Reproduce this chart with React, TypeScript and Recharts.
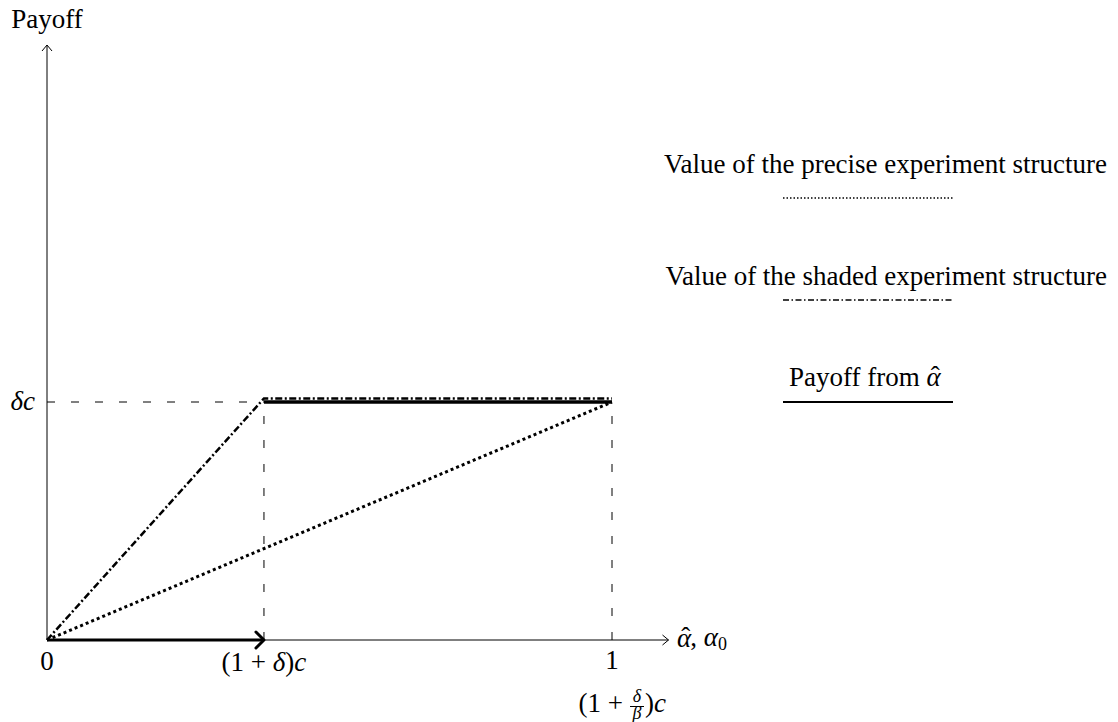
import { LineChart, Line, XAxis, YAxis, ReferenceLine, ReferenceDot, Customized } from "recharts"

const FONT = "'Liberation Serif', 'Times New Roman', serif"
const FS = 27

// x in units where "1" = 1, y in units of δc
const kinkX = 0.384
const xEnd = 1.1
const yTop = 2.5
const deltaC = 1

const xTicks = [0, kinkX, 1]
const yTicks = [deltaC]

const preciseX = [0, 1]
const preciseY = [0, 1]
const shadedX = [0, kinkX, 1]
const shadedY = [0, 1.015, 1.015]
const payoffLowX = [0, kinkX]
const payoffLowY = [0, 0]
const payoffHighX = [kinkX, 1]
const payoffHighY = [1, 1]

const legendLabels = [
  "Value of the precise experiment structure",
  "Value of the shaded experiment structure",
  "Payoff from ",
]

const toPoints = (xs: number[], ys: number[]) => xs.map((x, i) => ({ x, y: ys[i] }))

const it = { fontStyle: "italic" as const }

// α with a hat drawn over it (combining accents sit badly in Liberation)
function AlphaHat({ after = 0 }: { after?: number }) {
  return (
    <>
      <tspan {...it}>α</tspan>
      <tspan dx={-10} dy={-1}>ˆ</tspan>
      <tspan dx={after} dy={1}>{""}</tspan>
    </>
  )
}

function XTick(props: any) {
  const { x, y, index } = props
  if (index === 0) {
    return (
      <text x={x} y={y + 28} textAnchor="middle" fontFamily={FONT} fontSize={FS}>0</text>
    )
  }
  if (index === 1) {
    return (
      <text x={x} y={y + 29} textAnchor="middle" fontFamily={FONT} fontSize={FS}>
        <tspan>(1 + </tspan>
        <tspan {...it}>δ</tspan>
        <tspan>)</tspan>
        <tspan {...it}>c</tspan>
      </text>
    )
  }
  // "1" and (1 + δ/β)c below it
  return (
    <g fontFamily={FONT}>
      <text x={x} y={y + 27} textAnchor="middle" fontSize={FS}>1</text>
      <text x={x + 11} y={y + 70} textAnchor="end" fontSize={FS}>(1 +</text>
      <text x={x + 25} y={y + 60} textAnchor="middle" fontSize={18} {...it}>δ</text>
      <line x1={x + 18} x2={x + 32} y1={y + 64.5} y2={y + 64.5} stroke="#000" strokeWidth={1} />
      <text x={x + 25} y={y + 77} textAnchor="middle" fontSize={18} {...it}>β</text>
      <text x={x + 33} y={y + 70} textAnchor="start" fontSize={FS}>
        <tspan>)</tspan>
        <tspan {...it}>c</tspan>
      </text>
    </g>
  )
}

function YTick(props: any) {
  const { x, y } = props
  return (
    <text x={x - 10} y={y + 8} textAnchor="end" fontFamily={FONT} fontSize={FS} {...it}>
      δc
    </text>
  )
}

function ArrowRight(props: any) {
  const { cx, cy } = props
  return <path d={`M ${cx - 6} ${cy - 5} L ${cx} ${cy} L ${cx - 6} ${cy + 5}`} fill="none" stroke="#000" strokeWidth={1} />
}

function ArrowUp(props: any) {
  const { cx, cy } = props
  return <path d={`M ${cx - 5} ${cy + 6} L ${cx} ${cy} L ${cx + 5} ${cy + 6}`} fill="none" stroke="#000" strokeWidth={1} />
}

function ThickArrowDot(props: any) {
  const { cx, cy, index } = props
  if (index !== payoffLowX.length - 1) return <g key={`d${index}`} />
  return (
    <path
      key={`d${index}`}
      d={`M ${cx - 8} ${cy - 8} L ${cx} ${cy} L ${cx - 8} ${cy + 8}`}
      fill="none"
      stroke="#000"
      strokeWidth={3}
      strokeLinecap="round"
      strokeLinejoin="round"
    />
  )
}

function Annotations() {
  return (
    <g fontFamily={FONT} fontSize={FS} fill="#000">
      <text x={47} y={28} textAnchor="middle">Payoff</text>
      <text x={677} y={647} textAnchor="start">
        <AlphaHat after={1} />
        <tspan>, </tspan>
        <tspan {...it}>α</tspan>
        <tspan fontSize={18} dy={4}>0</tspan>
      </text>

      <text x={1107} y={173} textAnchor="end">{legendLabels[0]}</text>
      <line x1={783} x2={953} y1={198} y2={198} stroke="#000" strokeWidth={1.5} strokeDasharray="1.5 2" />

      <text x={1107} y={285} textAnchor="end">{legendLabels[1]}</text>
      <line x1={783} x2={953} y1={300} y2={300} stroke="#000" strokeWidth={1.5} strokeDasharray="6 2.5 1.5 2.5" />

      <text x={789} y={386} textAnchor="start">
        <tspan>{legendLabels[2]}</tspan>
        <AlphaHat />
      </text>
      <line x1={783} x2={953} y1={402} y2={402} stroke="#000" strokeWidth={2} />
    </g>
  )
}

export default function App() {
  return (
    <div style={{ position: "absolute", left: 0, top: 0, background: "#fff" }}>
      <LineChart width={1118} height={722} margin={{ top: 45, right: 449.5, bottom: 52, left: 7 }}>
        <XAxis
          type="number"
          dataKey="x"
          domain={[0, xEnd]}
          ticks={xTicks}
          interval={0}
          tick={<XTick />}
          tickLine={false}
          tickSize={0}
          height={30}
          axisLine={{ stroke: "#000", strokeWidth: 1 }}
        />
        <YAxis
          type="number"
          domain={[0, yTop]}
          ticks={yTicks}
          interval={0}
          tick={<YTick />}
          tickLine={false}
          tickSize={0}
          width={40}
          axisLine={{ stroke: "#000", strokeWidth: 1 }}
        />

        <ReferenceLine segment={[{ x: 0, y: deltaC }, { x: kinkX, y: deltaC }]} stroke="#000" strokeWidth={1} strokeDasharray="8 16" />
        <ReferenceLine segment={[{ x: kinkX, y: 0 }, { x: kinkX, y: deltaC }]} stroke="#000" strokeWidth={1} strokeDasharray="8 16" />
        <ReferenceLine segment={[{ x: 1, y: 0 }, { x: 1, y: deltaC }]} stroke="#000" strokeWidth={1} strokeDasharray="8 16" />

        <Line
          data={toPoints(preciseX, preciseY)}
          dataKey="y"
          type="linear"
          stroke="#000"
          strokeWidth={3}
          strokeDasharray="3 3"
          dot={false}
          isAnimationActive={false}
        />
        <Line
          data={toPoints(payoffHighX, payoffHighY)}
          dataKey="y"
          type="linear"
          stroke="#000"
          strokeWidth={3.5}
          dot={false}
          isAnimationActive={false}
        />
        <Line
          data={toPoints(payoffLowX, payoffLowY)}
          dataKey="y"
          type="linear"
          stroke="#000"
          strokeWidth={3}
          dot={<ThickArrowDot />}
          isAnimationActive={false}
        />
        <Line
          data={toPoints(shadedX, shadedY)}
          dataKey="y"
          type="linear"
          stroke="#000"
          strokeWidth={2.5}
          strokeDasharray="7 2.5 2 2.5"
          dot={false}
          isAnimationActive={false}
        />

        <ReferenceDot x={xEnd} y={0} r={0} ifOverflow="visible" shape={<ArrowRight />} />
        <ReferenceDot x={0} y={yTop} r={0} ifOverflow="visible" shape={<ArrowUp />} />

        <Customized component={<Annotations />} />
      </LineChart>
    </div>
  )
}
